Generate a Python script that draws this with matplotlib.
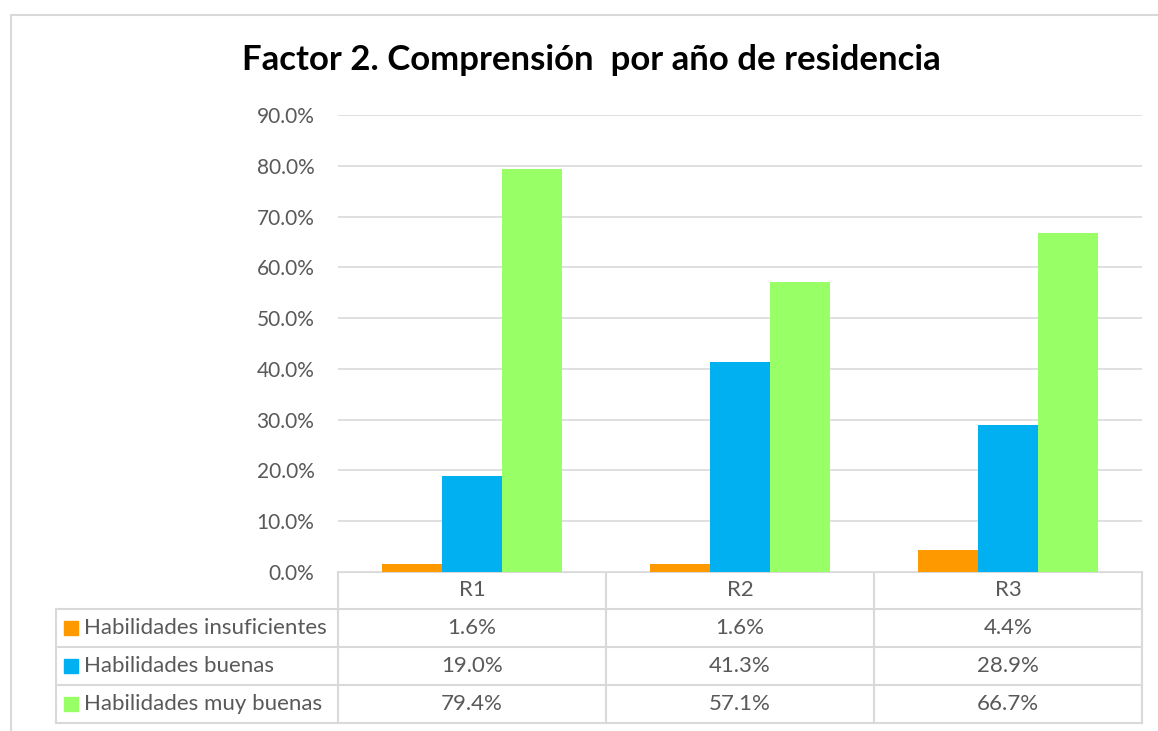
import matplotlib
matplotlib.use("Agg")
import matplotlib.pyplot as plt
import numpy as np
from matplotlib.patches import Rectangle

# data
categories = ["R1", "R2", "R3"]
series_names = ["Habilidades insuficientes", "Habilidades buenas", "Habilidades muy buenas"]
insuficientes = [1.6, 1.6, 4.4]
buenas = [19.0, 41.3, 28.9]
muy_buenas = [79.4, 57.1, 66.7]
yticks = [0, 10, 20, 30, 40, 50, 60, 70, 80, 90]

series = [insuficientes, buenas, muy_buenas]
colors = ["#FF9900", "#00B0F0", "#99FF66"]
grid_col = "#D9D9D9"
text_col = "#595959"
font = "Lato"
fs = 15
fs_tab = 16

W, H = 1158, 731
fig = plt.figure(figsize=(W / 100, H / 100), dpi=100)

# background axes in pixel coords, for frame and data table
bg = fig.add_axes([0, 0, 1, 1])
bg.set_xlim(0, W)
bg.set_ylim(H, 0)
bg.axis("off")

# outer chart frame
bg.plot([11, 11, W + 5], [H + 5, 15, 15], color=grid_col, lw=1.5)

# plot area
x0, x1, ytop, ybot = 338, 1142, 115, 572
ax = fig.add_axes([x0 / W, 1 - ybot / H, (x1 - x0) / W, (ybot - ytop) / H])
ax.set_xlim(0, len(categories))
ax.set_ylim(0, 90)
ax.set_yticks(yticks)
ax.set_yticklabels([f"{v:.1f}%" for v in yticks], fontsize=fs, color=text_col, family=font)
ax.tick_params(axis="y", length=0, pad=17)
ax.set_xticks([])
for s in ax.spines.values():
    s.set_visible(False)
ax.grid(axis="y", color=grid_col, lw=1.2)
ax.set_axisbelow(True)

bw = 0.224
xs = np.arange(len(categories)) + 0.5
for i, (vals, c) in enumerate(zip(series, colors)):
    ax.bar(xs + (i - 1) * bw, vals, width=bw, color=c, zorder=3)

fig.text(591 / W, 1 - 60 / H, "Factor 2. Comprensión  por año de residencia",
         ha="center", va="center", fontsize=25, fontweight="bold", family=font)

# data table
tab_left = 56
col_edges = [x0, 606, 874, x1]
row_edges = [572, 609, 647, 685, 723]
lw = 1.5
bg.plot([x0, x1], [row_edges[0], row_edges[0]], color=grid_col, lw=lw)
for y in row_edges[1:]:
    bg.plot([tab_left, x1], [y, y], color=grid_col, lw=lw)
for x in col_edges:
    bg.plot([x, x], [row_edges[0], row_edges[-1]], color=grid_col, lw=lw)
bg.plot([tab_left, tab_left], [row_edges[1], row_edges[-1]], color=grid_col, lw=lw)

for j, cat in enumerate(categories):
    cx = (col_edges[j] + col_edges[j + 1]) / 2
    bg.text(cx, (row_edges[0] + row_edges[1]) / 2, cat, ha="center", va="center",
            fontsize=fs_tab, color=text_col, family=font)
    for i, vals in enumerate(series):
        cy = (row_edges[i + 1] + row_edges[i + 2]) / 2
        bg.text(cx, cy, f"{vals[j]:.1f}%", ha="center", va="center",
                fontsize=fs_tab, color=text_col, family=font)

for i, (name, c) in enumerate(zip(series_names, colors)):
    cy = (row_edges[i + 1] + row_edges[i + 2]) / 2
    bg.add_patch(Rectangle((64, cy - 7), 14, 14, color=c))
    bg.text(84, cy, name, ha="left", va="center", fontsize=fs_tab, color=text_col, family=font)

fig.savefig("out.png", dpi=100)
